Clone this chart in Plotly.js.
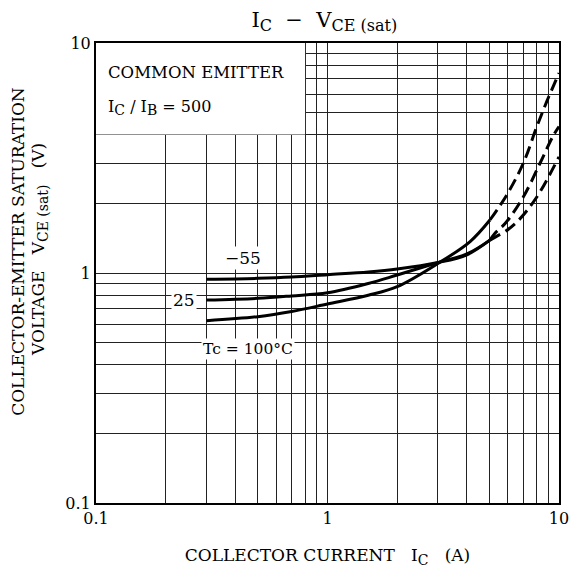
<!DOCTYPE html>
<html>
<head>
<meta charset="utf-8">
<script src="https://cdn.plot.ly/plotly-3.0.1.min.js"></script>
<style>html,body{margin:0;padding:0;background:#fff;}#chart{width:571px;height:571px;}</style>
</head>
<body>
<div id="chart"></div>
<script>
// Solid portions (measured region)
const ic_m55 = [0.3, 0.5, 0.7, 1, 1.5, 2, 3, 4, 5.03];
const vce_m55 = [0.94, 0.948, 0.96, 0.983, 1.01, 1.04, 1.11, 1.2, 1.39];
const ic_25 = [0.3, 0.5, 0.7, 1, 1.5, 2, 3, 4, 5.03];
const vce_25 = [0.763, 0.776, 0.795, 0.82, 0.9, 0.98, 1.11, 1.21, 1.39];
const ic_100 = [0.3, 0.5, 0.7, 1, 1.5, 2, 3, 4.13, 5.03];
const vce_100 = [0.62, 0.646, 0.68, 0.733, 0.8, 0.872, 1.1, 1.37, 1.7];
// Dashed (extrapolated) portions
const icd_m55 = [5.03, 5.35, 5.94, 6.67, 8.02, 10];
const vced_m55 = [1.39, 1.44, 1.53, 1.69, 2.14, 3.2];
const icd_25 = [5.03, 5.29, 5.85, 7.01, 8.28, 9.4, 10];
const vced_25 = [1.39, 1.49, 1.64, 2.14, 3.0, 3.92, 4.33];
const icd_100 = [5.03, 5.94, 7.01, 8.02, 8.85, 10];
const vced_100 = [1.7, 2.18, 3.0, 4.33, 5.56, 7.4];

const gridVals = [0.1,0.2,0.3,0.4,0.5,0.6,0.7,0.8,0.9,1,2,3,4,5,6,7,8,9,10];
const gridText = ['0.1','','','','','','','','','1','','','','','','','','','10'];

const FONT = 'DejaVu Serif, Liberation Serif, serif';
const solid = {color:'#000', width:3, shape:'spline'};
const dashed = {color:'#000', width:3, shape:'spline', dash:'12px,6px'};

function sub(t, px) { return '<sub><span style="font-size:' + px + 'px">' + t + '</span></sub>'; }

const traces = [
  {x: ic_m55, y: vce_m55, mode:'lines', line: solid, name:'-55'},
  {x: ic_25, y: vce_25, mode:'lines', line: solid, name:'25'},
  {x: ic_100, y: vce_100, mode:'lines', line: solid, name:'100'},
  {x: icd_m55, y: vced_m55, mode:'lines', line: dashed, name:'-55 ext'},
  {x: icd_25, y: vced_25, mode:'lines', line: dashed, name:'25 ext'},
  {x: icd_100, y: vced_100, mode:'lines', line: dashed, name:'100 ext'}
];

const axisCommon = {
  type:'log', tickvals: gridVals, ticktext: gridText, ticks:'',
  showgrid:true, gridcolor:'#222', gridwidth:1,
  showline:true, linecolor:'#000', linewidth:2, mirror:true,
  zeroline:false, tickfont:{family:FONT, size:16, color:'#000'}
};

const layout = {
  width:571, height:571,
  margin:{l:96, r:12, t:43, b:68},
  paper_bgcolor:'#fff', plot_bgcolor:'#fff',
  showlegend:false,
  font:{family:FONT, color:'#000'},
  title:{text:'I' + sub('C', 16) + '  −  V' + sub('CE (sat)', 16), font:{family:FONT, size:21, color:'#000'}, x:0.568, xanchor:'center', y:0.966, yanchor:'middle'},
  xaxis: Object.assign({}, axisCommon, {range:[-1,1],
    title:{text:'COLLECTOR CURRENT   I' + sub('C', 14) + '   (A)', font:{family:FONT, size:17, color:'#000'}, standoff:22}}),
  yaxis: Object.assign({}, axisCommon, {range:[-1,1]}),
  shapes:[
    {type:'rect', xref:'x', yref:'y', x0:0.1, x1:0.8, y0:4, y1:10, fillcolor:'#fff', line:{width:0}, layer:'between'}
  ],
  annotations:[
    {xref:'paper', yref:'paper', x:0, y:0.546, xshift:-78, xanchor:'center', yanchor:'middle', textangle:-90, showarrow:false,
     text:'COLLECTOR-EMITTER SATURATION', font:{family:FONT, size:17, color:'#000'}},
    {xref:'paper', yref:'paper', x:0, y:0.55, xshift:-56, xanchor:'center', yanchor:'middle', textangle:-90, showarrow:false,
     text:'VOLTAGE   V' + sub('CE (sat)', 14) + '   (V)', font:{family:FONT, size:17, color:'#000'}},
    {xref:'paper', yref:'paper', x:0.022, y:0.935, xanchor:'left', yanchor:'middle', showarrow:false,
     text:'COMMON EMITTER', font:{family:FONT, size:16.5, color:'#000'}},
    {xref:'paper', yref:'paper', x:0.022, y:0.859, xanchor:'left', yanchor:'middle', showarrow:false,
     text:'I' + sub('C', 14) + ' / I' + sub('B', 14) + ' = 500', font:{family:FONT, size:16, color:'#000'}},
    {xref:'x', yref:'y', x:Math.log10(0.43), y:Math.log10(1.16), showarrow:false, text:'−55', bgcolor:'#fff',
     font:{family:FONT, size:17, color:'#000'}},
    {xref:'x', yref:'y', x:Math.log10(0.24), y:Math.log10(0.763), showarrow:false, text:'25', bgcolor:'#fff',
     font:{family:FONT, size:17, color:'#000'}},
    {xref:'x', yref:'y', x:Math.log10(0.454), y:Math.log10(0.467), showarrow:false, text:'Tc = 100°C', bgcolor:'#fff',
     font:{family:FONT, size:15.5, color:'#000'}}
  ]
};

Plotly.newPlot('chart', traces, layout, {displayModeBar:false, staticPlot:true});
</script>
</body>
</html>
